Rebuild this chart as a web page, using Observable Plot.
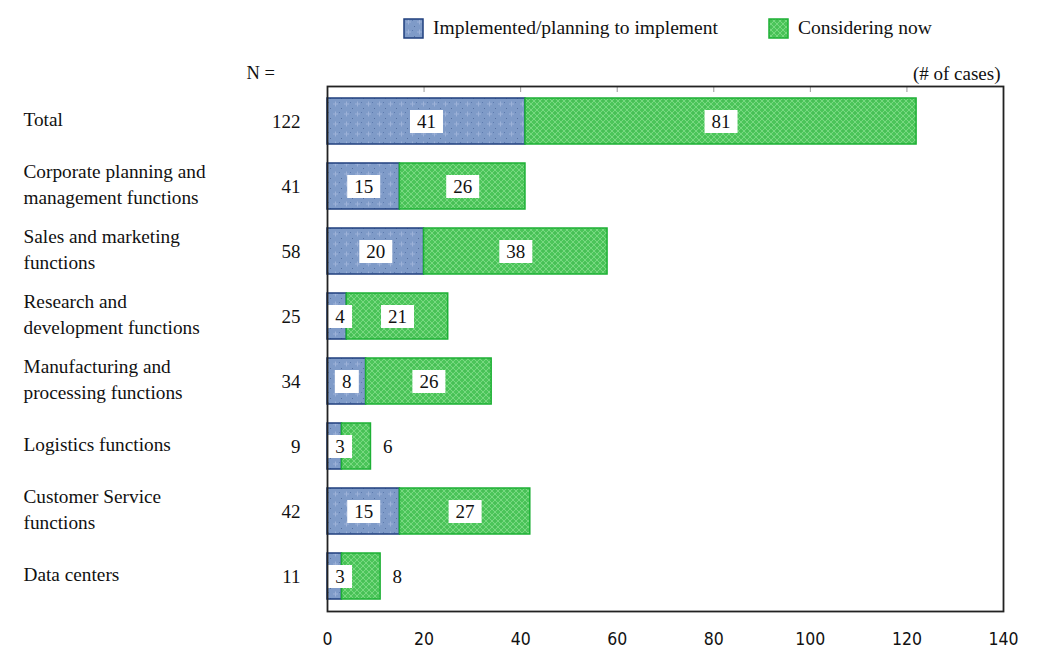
<!DOCTYPE html>
<html>
<head>
<meta charset="utf-8">
<script src="https://cdn.jsdelivr.net/npm/d3@7"></script>
<script src="https://cdn.jsdelivr.net/npm/@observablehq/plot@0.6"></script>
<style>
  html, body { margin: 0; padding: 0; background: #fff; }
  #wrap { width: 1039px; height: 650px; position: relative; }
  #legend { position: relative; height: 50px; font-family: "Liberation Serif", "Times New Roman", serif; font-size: 19.5px; color: #111; }
  .item { position: absolute; top: 17px; display: flex; align-items: center; }
  .item svg { margin-right: 9px; }
</style>
</head>
<body>
<svg width="0" height="0" style="position:absolute">
  <defs>
    <pattern id="patBlue" patternUnits="userSpaceOnUse" width="11" height="10">
      <rect width="11" height="10" fill="#7F9BC8"/>
      <path d="M5.5 1.5v5M3 4h5" stroke="#9DB2D8" stroke-width="1"/>
      <rect x="0" y="8" width="1" height="1" fill="#5670A0"/>
      <rect x="9" y="2" width="1" height="1" fill="#5D7AAE"/>
    </pattern>
    <pattern id="patGreen" patternUnits="userSpaceOnUse" width="6" height="6">
      <rect width="6" height="6" fill="#4CC55A"/>
      <path d="M0 3L3 0L6 3L3 6Z" fill="none" stroke="#78D881" stroke-width="1"/>
      <rect x="2.5" y="2.5" width="1" height="1" fill="#3AAF48"/>
    </pattern>
  </defs>
</svg>
<div id="wrap">
  <div id="legend"></div>
  <div id="chart"></div>
</div>
<script>
const categories = [
  "Total",
  "Corporate planning and\nmanagement functions",
  "Sales and marketing\nfunctions",
  "Research and\ndevelopment functions",
  "Manufacturing and\nprocessing functions",
  "Logistics functions",
  "Customer Service\nfunctions",
  "Data centers"
];
const nTotal = [122, 41, 58, 25, 34, 9, 42, 11];
const implemented = [41, 15, 20, 4, 8, 3, 15, 3];
const considering = [81, 26, 38, 21, 26, 6, 27, 8];
const seriesNames = ["Implemented/planning to implement", "Considering now"];
const xTicks = [0, 20, 40, 60, 80, 100, 120, 140];

const serif = "Liberation Serif";
const blueFill = "url(#patBlue)", blueStroke = "#1F3F7E";
const greenFill = "url(#patGreen)", greenStroke = "#1DB035";

// legend (HTML, above the SVG)
const legend = document.getElementById("legend");
[[seriesNames[0], blueFill, blueStroke, 403], [seriesNames[1], greenFill, greenStroke, 768]].forEach(([name, f, s, left]) => {
  const it = document.createElement("div");
  it.className = "item";
  it.style.left = left + "px";
  it.innerHTML = `<svg width="21" height="21"><rect x="1" y="1" width="19" height="19" fill="${f}" stroke="${s}" stroke-width="1.5"/></svg><span>${name}</span>`;
  legend.appendChild(it);
});

const rows = categories.map((c, i) => ({cat: c, n: nTotal[i], impl: implemented[i], cons: considering[i]}));
const labels = rows.flatMap(r => [
  {cat: r.cat, v: r.impl, x: Math.max(r.impl / 2, 2.6), inside: true},
  {cat: r.cat, v: r.cons, x: r.cons < 10 ? r.impl + r.cons : r.impl + r.cons / 2, inside: r.cons >= 10}
]);
const inside = labels.filter(d => d.inside);
const outside = labels.filter(d => !d.inside);

const box = (w, h) => ({draw(ctx) { ctx.rect(-w / 2, -h / 2, w, h); }});

const chart = Plot.plot({
  width: 1039,
  height: 600,
  marginTop: 36,
  marginBottom: 39,
  marginLeft: 327,
  marginRight: 36,
  style: {fontFamily: serif, fontSize: "18px", background: "#fff", color: "#111"},
  x: {domain: [0, 140], axis: null},
  y: {domain: categories, paddingInner: 0.3, paddingOuter: 0.15, axis: null},
  marks: [
    Plot.ruleX(xTicks.slice(1, -1), {stroke: "#9a9a9a", strokeWidth: 1, insetBottom: 519}),
    Plot.barX(rows, {y: "cat", x1: d => 0, x2: "impl", fill: blueFill, stroke: blueStroke, strokeWidth: 1.5}),
    Plot.barX(rows, {y: "cat", x1: "impl", x2: d => d.impl + d.cons, fill: greenFill, stroke: greenStroke, strokeWidth: 1.5}),
    Plot.dot(inside.filter(d => d.v < 10), {x: "x", y: "cat", symbol: box(24, 23), fill: "white", stroke: null}),
    Plot.dot(inside.filter(d => d.v >= 10), {x: "x", y: "cat", symbol: box(33, 23), fill: "white", stroke: null}),
    Plot.text(inside, {x: "x", y: "cat", text: d => String(d.v), fill: "#111", fontSize: 19, fontFamily: serif}),
    Plot.text(outside, {x: "x", y: "cat", text: d => String(d.v), dx: 12, textAnchor: "start", fill: "#111", fontSize: 19, fontFamily: serif}),
    Plot.text(rows, {y: "cat", text: "cat", frameAnchor: "left", dx: -304, dy: -4, textAnchor: "start", lineHeight: 1.38, fill: "#111", fontSize: 19.3, fontFamily: serif}),
    Plot.text(rows, {y: "cat", text: d => String(d.n), frameAnchor: "left", dx: -27, textAnchor: "end", fill: "#111", fontSize: 19, fontFamily: serif}),
    Plot.text(["N ="], {text: d => d, frameAnchor: "top-left", lineAnchor: "middle", dx: -81, dy: -13, textAnchor: "start", fill: "#111", fontSize: 18.5, fontFamily: serif}),
    Plot.text(["(# of cases)"], {text: d => d, frameAnchor: "top-right", lineAnchor: "middle", dx: -3, dy: -13, textAnchor: "end", fill: "#111", fontSize: 19, fontFamily: serif}),
    Plot.frame({stroke: "#222", strokeWidth: 1.8}),
    Plot.axisX(xTicks, {anchor: "bottom", tickSize: 0, tickPadding: 21, fontSize: 17.5, fontFamily: "DejaVu Sans Condensed, Liberation Sans, sans-serif", fill: "#111"})
  ]
});
document.getElementById("chart").appendChild(chart);
</script>
</body>
</html>
